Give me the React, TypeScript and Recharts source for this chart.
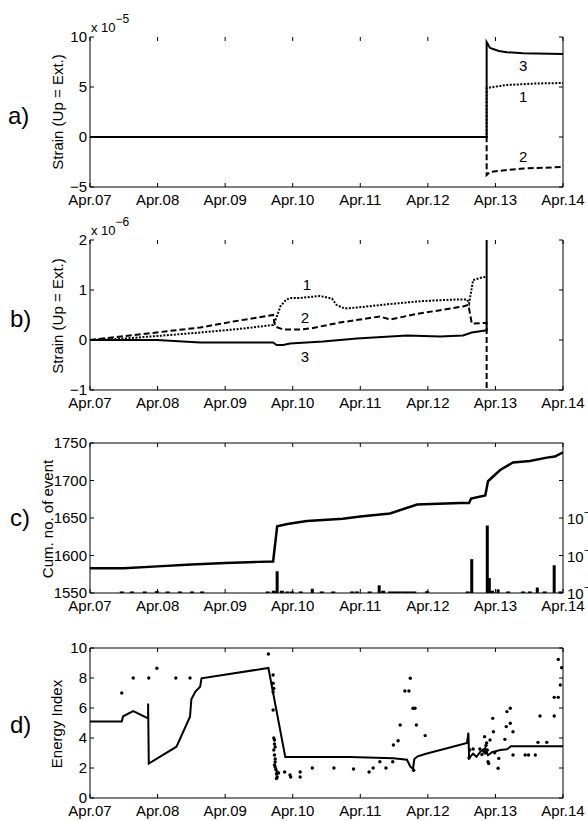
import React from "react";
import { LineChart, ComposedChart, Line, Bar, Scatter, XAxis, YAxis, ReferenceDot } from "recharts";

const FONT = "'Liberation Sans', Arial, Helvetica, sans-serif";
const W = 588;
const H = 185;

const dayTicks = [0, 1, 2, 3, 4, 5, 6, 7];
const dayLabels = ["Apr.07", "Apr.08", "Apr.09", "Apr.10", "Apr.11", "Apr.12", "Apr.13", "Apr.14"];

// a) strain (x 10^-5), components 1..3
const strainA1 = [
  { t: 0, v: 0 }, { t: 5.87, v: 0 }, { t: 5.87, v: 4.9 }, { t: 6.17, v: 5.2 }, { t: 6.6, v: 5.35 }, { t: 7, v: 5.4 },
];
const strainA2 = [
  { t: 0, v: 0 }, { t: 5.87, v: 0 }, { t: 5.87, v: -3.8 }, { t: 5.92, v: -3.5 }, { t: 6.17, v: -3.3 },
  { t: 6.41, v: -3.15 }, { t: 7, v: -3.0 },
];
const strainA3 = [
  { t: 0, v: 0 }, { t: 5.87, v: 0 }, { t: 5.87, v: 9.5 }, { t: 5.92, v: 8.9 }, { t: 6.05, v: 8.6 },
  { t: 6.17, v: 8.47 }, { t: 6.41, v: 8.37 }, { t: 7, v: 8.3 },
];
const labelsA = [
  { t: 6.41, v: 7.1, name: "3" },
  { t: 6.41, v: 4.0, name: "1" },
  { t: 6.41, v: -2.0, name: "2" },
];

// b) strain (x 10^-6)
const strainB1 = [
  { t: 0, v: 0 }, { t: 0.5, v: 0.03 }, { t: 1, v: 0.08 }, { t: 1.63, v: 0.15 }, { t: 2.2, v: 0.22 },
  { t: 2.71, v: 0.3 }, { t: 2.76, v: 0.45 }, { t: 2.82, v: 0.68 }, { t: 2.9, v: 0.8 }, { t: 2.96, v: 0.84 },
  { t: 3.1, v: 0.84 }, { t: 3.4, v: 0.88 }, { t: 3.58, v: 0.83 }, { t: 3.65, v: 0.7 }, { t: 3.77, v: 0.63 },
  { t: 3.95, v: 0.65 }, { t: 4.44, v: 0.72 }, { t: 4.93, v: 0.78 }, { t: 5.43, v: 0.81 }, { t: 5.58, v: 0.81 },
  { t: 5.61, v: 0.73 }, { t: 5.67, v: 1.2 }, { t: 5.8, v: 1.25 }, { t: 5.85, v: 1.26 },
];
const strainB2 = [
  { t: 0, v: 0 }, { t: 1.63, v: 0.25 }, { t: 2.12, v: 0.37 }, { t: 2.71, v: 0.5 }, { t: 2.74, v: 0.27 },
  { t: 2.86, v: 0.21 }, { t: 3.1, v: 0.21 }, { t: 3.26, v: 0.23 }, { t: 3.7, v: 0.35 }, { t: 4.29, v: 0.47 },
  { t: 4.44, v: 0.41 }, { t: 4.83, v: 0.52 }, { t: 5.52, v: 0.67 }, { t: 5.6, v: 0.7 }, { t: 5.65, v: 0.33 },
  { t: 5.82, v: 0.34 }, { t: 5.87, v: 0.34 }, { t: 5.87, v: -1.0 },
];
const strainB3 = [
  { t: 0, v: 0 }, { t: 0.99, v: 0 }, { t: 1.63, v: -0.05 }, { t: 2.71, v: -0.05 }, { t: 2.76, v: -0.1 },
  { t: 2.86, v: -0.1 }, { t: 2.96, v: -0.07 }, { t: 3.45, v: -0.03 }, { t: 3.95, v: 0.03 }, { t: 4.69, v: 0.09 },
  { t: 5.18, v: 0.07 }, { t: 5.52, v: 0.09 }, { t: 5.65, v: 0.15 }, { t: 5.85, v: 0.19 }, { t: 5.87, v: 0.19 },
  { t: 5.87, v: 2.0 },
];
const labelsB = [
  { t: 3.21, v: 1.1, name: "1" },
  { t: 3.18, v: 0.44, name: "2" },
  { t: 3.18, v: -0.34, name: "3" },
];

// c) cumulative number of events + energy bars (log axis)
const cumEvents = [
  { t: 0, n: 1583 }, { t: 0.5, n: 1583 }, { t: 1, n: 1585.5 }, { t: 1.5, n: 1588 }, { t: 2, n: 1590 },
  { t: 2.5, n: 1591.5 }, { t: 2.71, n: 1592 }, { t: 2.77, n: 1639 }, { t: 2.92, n: 1642 }, { t: 3.21, n: 1646 },
  { t: 3.74, n: 1649 }, { t: 4.0, n: 1652 }, { t: 4.44, n: 1656 }, { t: 4.84, n: 1668 }, { t: 5.48, n: 1670 },
  { t: 5.61, n: 1670 }, { t: 5.64, n: 1676 }, { t: 5.85, n: 1680 }, { t: 5.89, n: 1699 }, { t: 6.07, n: 1714 },
  { t: 6.26, n: 1724 }, { t: 6.51, n: 1726 }, { t: 6.76, n: 1730.5 }, { t: 6.88, n: 1732 }, { t: 7, n: 1737.5 },
];
const energyBars = [
  { t: 0.47, e: 1.1e-11 }, { t: 0.62, e: 1.1e-11 }, { t: 0.81, e: 1.1e-11 }, { t: 0.99, e: 1.12e-11 },
  { t: 1.15, e: 1.1e-11 }, { t: 1.33, e: 1.1e-11 }, { t: 1.51, e: 1.1e-11 }, { t: 1.66, e: 1.1e-11 },
  { t: 2.63, e: 1.1e-11 }, { t: 2.72, e: 1.15e-11 }, { t: 2.77, e: 3.8e-11 }, { t: 2.84, e: 1.15e-11 },
  { t: 2.92, e: 1.1e-11 }, { t: 2.99, e: 1.1e-11 }, { t: 3.12, e: 1.1e-11 }, { t: 3.29, e: 1.3e-11 },
  { t: 3.43, e: 1.1e-11 }, { t: 3.6, e: 1.1e-11 }, { t: 3.88, e: 1.1e-11 }, { t: 3.95, e: 1.1e-11 },
  { t: 4.14, e: 1.1e-11 }, { t: 4.28, e: 1.6e-11 }, { t: 4.34, e: 1.15e-11 }, { t: 4.44, e: 1.1e-11 },
  { t: 4.5, e: 1.1e-11 }, { t: 4.56, e: 1.1e-11 }, { t: 4.62, e: 1.1e-11 }, { t: 4.68, e: 1.1e-11 },
  { t: 4.74, e: 1.1e-11 }, { t: 4.8, e: 1.1e-11 }, { t: 4.99, e: 1.12e-11 }, { t: 5.59, e: 1.1e-11 },
  { t: 5.65, e: 8e-11 }, { t: 5.88, e: 6.3e-10 }, { t: 5.91, e: 2.5e-11 }, { t: 5.95, e: 1.15e-11 },
  { t: 6.04, e: 1.25e-11 }, { t: 6.19, e: 1.1e-11 }, { t: 6.41, e: 1.1e-11 }, { t: 6.51, e: 1.1e-11 },
  { t: 6.62, e: 1.4e-11 }, { t: 6.73, e: 1.1e-11 }, { t: 6.87, e: 5.5e-11 }, { t: 6.96, e: 1.1e-11 },
];
const energyTicks = [1e-11, 1e-10, 1e-9, 1e-8];
const energyLabelled = [-11, -10, -9];

// d) energy index
const energyIndexLine = [
  { t: 0, e: 5.1 }, { t: 0.47, e: 5.1 }, { t: 0.49, e: 5.45 }, { t: 0.64, e: 5.8 }, { t: 0.86, e: 5.3 },
  { t: 0.86, e: 6.3 }, { t: 0.87, e: 2.3 }, { t: 1.28, e: 3.42 }, { t: 1.48, e: 5.42 }, { t: 1.5, e: 6.58 },
  { t: 1.56, e: 7.1 }, { t: 1.63, e: 7.42 }, { t: 1.65, e: 7.98 }, { t: 2.64, e: 8.67 }, { t: 2.89, e: 2.73 },
  { t: 3.85, e: 2.73 }, { t: 4.49, e: 2.65 }, { t: 4.69, e: 2.55 }, { t: 4.74, e: 2.1 }, { t: 4.78, e: 1.95 },
  { t: 4.8, e: 2.6 }, { t: 4.85, e: 2.78 }, { t: 4.96, e: 2.93 }, { t: 5.58, e: 3.67 }, { t: 5.6, e: 4.35 },
  { t: 5.61, e: 2.67 }, { t: 5.67, e: 2.95 }, { t: 5.72, e: 2.75 }, { t: 5.78, e: 3.1 }, { t: 5.85, e: 3.33 },
  { t: 5.89, e: 2.85 }, { t: 5.95, e: 3.05 }, { t: 6.07, e: 3.2 }, { t: 6.17, e: 3.25 }, { t: 6.23, e: 3.45 },
  { t: 7, e: 3.45 },
];
const energyIndexPoints = [
  { t: 0.47, e: 7.0 }, { t: 0.64, e: 8.0 }, { t: 0.87, e: 8.0 }, { t: 0.99, e: 8.65 }, { t: 1.27, e: 8.0 },
  { t: 1.48, e: 8.0 }, { t: 2.64, e: 9.6 }, { t: 2.71, e: 8.2 }, { t: 2.71, e: 7.65 }, { t: 2.72, e: 7.3 },
  { t: 2.71, e: 7.07 }, { t: 2.71, e: 5.87 }, { t: 2.72, e: 4.0 }, { t: 2.73, e: 3.87 }, { t: 2.73, e: 3.6 },
  { t: 2.74, e: 3.4 }, { t: 2.72, e: 3.2 }, { t: 2.73, e: 2.87 }, { t: 2.74, e: 2.6 }, { t: 2.74, e: 2.4 },
  { t: 2.73, e: 2.2 }, { t: 2.74, e: 2.07 }, { t: 2.75, e: 1.9 }, { t: 2.77, e: 1.73 }, { t: 2.76, e: 1.6 },
  { t: 2.77, e: 1.4 }, { t: 2.76, e: 1.3 }, { t: 2.79, e: 1.67 }, { t: 2.88, e: 1.73 }, { t: 2.96, e: 1.53 },
  { t: 2.97, e: 1.4 }, { t: 3.11, e: 1.73 }, { t: 3.11, e: 1.4 }, { t: 3.29, e: 2.0 }, { t: 3.61, e: 2.0 },
  { t: 3.9, e: 1.93 }, { t: 4.13, e: 1.73 }, { t: 4.19, e: 2.0 }, { t: 4.29, e: 2.42 }, { t: 4.38, e: 2.0 },
  { t: 4.48, e: 2.42 }, { t: 4.49, e: 3.53 }, { t: 4.56, e: 3.82 }, { t: 4.59, e: 4.87 }, { t: 4.66, e: 7.13 },
  { t: 4.72, e: 7.13 }, { t: 4.74, e: 7.98 }, { t: 4.78, e: 5.98 }, { t: 4.81, e: 5.98 }, { t: 4.83, e: 4.87 },
  { t: 4.96, e: 4.16 }, { t: 4.79, e: 1.85 }, { t: 5.62, e: 3.2 }, { t: 5.61, e: 2.67 }, { t: 5.67, e: 3.27 },
  { t: 5.77, e: 3.27 }, { t: 5.8, e: 2.9 }, { t: 5.83, e: 3.1 }, { t: 5.84, e: 4.09 }, { t: 5.85, e: 3.0 },
  { t: 5.86, e: 3.5 }, { t: 5.87, e: 3.67 }, { t: 5.88, e: 3.2 }, { t: 5.89, e: 2.42 }, { t: 5.9, e: 2.3 },
  { t: 5.92, e: 3.87 }, { t: 5.96, e: 5.31 }, { t: 5.97, e: 4.42 }, { t: 5.99, e: 3.02 }, { t: 6.04, e: 1.98 },
  { t: 6.05, e: 2.64 }, { t: 6.14, e: 3.91 }, { t: 6.16, e: 4.76 }, { t: 6.17, e: 5.76 }, { t: 6.22, e: 5.98 },
  { t: 6.22, e: 4.98 }, { t: 6.26, e: 4.42 }, { t: 6.26, e: 2.87 }, { t: 6.44, e: 2.87 }, { t: 6.49, e: 2.87 },
  { t: 6.59, e: 2.87 }, { t: 6.63, e: 3.71 }, { t: 6.66, e: 5.47 }, { t: 6.76, e: 3.71 }, { t: 6.87, e: 5.47 },
  { t: 6.87, e: 6.71 }, { t: 6.93, e: 6.71 }, { t: 6.96, e: 7.53 }, { t: 6.93, e: 9.24 }, { t: 6.98, e: 8.69 },
];

const black = { stroke: "#000", strokeWidth: 1 };
const tickText = { fill: "#000", fontSize: 15, fontFamily: FONT };
const fmtMinus = (v: number) => String(v).replace("-", "\u2212");
const margin = { top: 10, right: 25, bottom: 0, left: 0 };
// tick marks only, no label
const NoLabel = () => <g />;

function frameAxes(yDomain: [number, number], yTicks: number[], boxTop: boolean) {
  return [
    <XAxis key="xb" xAxisId="b" dataKey="t" type="number" domain={[0, 7]} ticks={dayTicks} interval={0}
      allowDataOverflow tickFormatter={(v: number) => dayLabels[v]} height={25} tickLine={false}
      tickSize={0} tickMargin={7} axisLine={black} tick={tickText} />,
    <XAxis key="xbm" xAxisId="bm" dataKey="t" type="number" domain={[0, 7]} ticks={dayTicks} interval={0}
      allowDataOverflow mirror tick={NoLabel} axisLine={false} tickSize={4} tickLine={black} />,
    <XAxis key="xt" xAxisId="t" dataKey="t" orientation="top" type="number" domain={[0, 7]} ticks={dayTicks}
      interval={0} allowDataOverflow mirror tick={NoLabel} axisLine={boxTop ? black : false}
      tickSize={4} tickLine={black} />,
    <YAxis key="yl" yAxisId="l" type="number" domain={yDomain} ticks={yTicks} interval={0}
      allowDataOverflow width={90} tickFormatter={fmtMinus} tickLine={false} tickSize={0}
      tickMargin={3} axisLine={black} tick={tickText} />,
    <YAxis key="ylm" yAxisId="lm" type="number" domain={yDomain} ticks={yTicks} interval={0}
      allowDataOverflow mirror tick={NoLabel} axisLine={false} tickSize={4} tickLine={black} />,
  ];
}

function rightBox(yDomain: [number, number], yTicks: number[]) {
  return (
    <YAxis yAxisId="r" orientation="right" type="number" domain={yDomain} ticks={yTicks} interval={0}
      allowDataOverflow mirror tick={NoLabel} axisLine={black} tickSize={4} tickLine={black} />
  );
}

function lineLabels(items: { t: number; v: number; name: string }[]) {
  return items.map((p) => (
    <ReferenceDot key={p.name} xAxisId="b" yAxisId="l" x={p.t} y={p.v} r={0} stroke="none"
      label={{ value: p.name, position: "center", fill: "#000", fontSize: 15, fontFamily: FONT }} />
  ));
}

const EnergyBar = (p: any) => {
  if (p.payload == null || p.payload.energy == null || !(p.height > 0)) return null;
  const cx = p.x + p.width / 2;
  const w = p.height < 3 ? 4 : 3;
  return <rect x={cx - w / 2} y={p.y} width={w} height={p.height} fill="#000" />;
};

const LogTick = (p: any) => {
  const exp = Math.round(Math.log10(p.payload.value));
  if (!energyLabelled.includes(exp)) return <g />;
  return (
    <text x={p.x + 2} y={p.y + 6} fill="#000" fontSize={15} fontFamily={FONT} textAnchor="start">
      10<tspan dy={-8} fontSize={11}>{fmtMinus(exp)}</tspan>
    </text>
  );
};

const Dot = (p: any) => <circle cx={p.cx} cy={p.cy} r={1.7} fill="#000" />;

const cData = [
  ...cumEvents.map((p) => ({ t: p.t, cum: p.n })),
  ...energyBars.map((b) => ({ t: b.t, energy: b.e })),
].sort((a, b) => a.t - b.t);

function panelStyle(top: number): React.CSSProperties {
  return { position: "absolute", left: 0, top: top - 10 };
}

export default function App() {
  return (
    <div style={{ position: "absolute", left: 0, top: 0, width: W, height: 821, background: "#fff", fontFamily: FONT }}>
      <div style={panelStyle(37)}>
        <LineChart width={W} height={H} data={strainA3} margin={margin}>
          {frameAxes([-5, 10], [-5, 0, 5, 10], false)}
          {rightBox([-5, 10], [-5, 0, 5, 10])}
          <Line xAxisId="b" yAxisId="l" data={strainA1} dataKey="v" type="linear" stroke="#000" strokeWidth={2}
            strokeDasharray="2 1.5" dot={false} isAnimationActive={false} />
          <Line xAxisId="b" yAxisId="l" data={strainA2} dataKey="v" type="linear" stroke="#000" strokeWidth={2}
            strokeDasharray="6 3" dot={false} isAnimationActive={false} />
          <Line xAxisId="b" yAxisId="l" data={strainA3} dataKey="v" type="linear" stroke="#000" strokeWidth={2}
            dot={false} isAnimationActive={false} />
          {lineLabels(labelsA)}
        </LineChart>
      </div>

      <div style={panelStyle(240)}>
        <LineChart width={W} height={H} data={strainB3} margin={margin}>
          {frameAxes([-1, 2], [-1, 0, 1, 2], false)}
          {rightBox([-1, 2], [-1, 0, 1, 2])}
          <Line xAxisId="b" yAxisId="l" data={strainB1} dataKey="v" type="linear" stroke="#000" strokeWidth={2}
            strokeDasharray="2 1.5" dot={false} isAnimationActive={false} />
          <Line xAxisId="b" yAxisId="l" data={strainB2} dataKey="v" type="linear" stroke="#000" strokeWidth={2}
            strokeDasharray="6 3" dot={false} isAnimationActive={false} />
          <Line xAxisId="b" yAxisId="l" data={strainB3} dataKey="v" type="linear" stroke="#000" strokeWidth={2}
            dot={false} isAnimationActive={false} />
          {lineLabels(labelsB)}
        </LineChart>
      </div>

      <div style={panelStyle(443)}>
        <ComposedChart width={W} height={H} data={cData} margin={{ ...margin, right: 0 }}>
          {frameAxes([1550, 1750], [1550, 1600, 1650, 1700, 1750], true)}
          <YAxis yAxisId="e" orientation="right" type="number" scale="log" domain={[1e-11, 1e-7]}
            ticks={energyTicks} interval={0} allowDataOverflow width={25} tickLine={false} tickSize={0}
            axisLine={black} tick={LogTick} />
          <YAxis yAxisId="r" orientation="right" type="number" scale="log" domain={[1e-11, 1e-7]}
            ticks={energyTicks} interval={0} allowDataOverflow mirror tick={NoLabel} axisLine={false}
            tickSize={4} tickLine={black} />
          <Bar xAxisId="b" yAxisId="e" dataKey="energy" barSize={3} fill="#000" shape={EnergyBar}
            isAnimationActive={false} />
          <Line xAxisId="b" yAxisId="l" dataKey="cum" type="linear" stroke="#000" strokeWidth={2.5}
            dot={false} connectNulls isAnimationActive={false} />
        </ComposedChart>
      </div>

      <div style={panelStyle(648)}>
        <ComposedChart width={W} height={H} data={energyIndexLine} margin={margin}>
          {frameAxes([0, 10], [0, 2, 4, 6, 8, 10], true)}
          {rightBox([0, 10], [0, 2, 4, 6, 8, 10])}
          <Line xAxisId="b" yAxisId="l" dataKey="e" type="linear" stroke="#000" strokeWidth={2}
            dot={false} isAnimationActive={false} />
          <Scatter xAxisId="b" yAxisId="l" data={energyIndexPoints} dataKey="e" fill="#000" shape={Dot}
            isAnimationActive={false} />
        </ComposedChart>
      </div>

      <svg width={W} height={821} style={{ position: "absolute", left: 0, top: 0, pointerEvents: "none" }}
        fontFamily={FONT} fill="#000">
        <text x={8} y={124} fontSize={24}>a)</text>
        <text x={10} y={327} fontSize={24}>b)</text>
        <text x={10} y={526} fontSize={24}>c)</text>
        <text x={10} y={733} fontSize={24}>d)</text>

        <text x={63} y={112} fontSize={15} textAnchor="middle" transform="rotate(-90 63 112)">Strain (Up = Ext.)</text>
        <text x={63} y={316} fontSize={15} textAnchor="middle" transform="rotate(-90 63 316)">Strain (Up = Ext.)</text>
        <text x={53} y={519} fontSize={15} textAnchor="middle" transform="rotate(-90 53 519)">Cum. no. of event</text>
        <text x={62} y={724} fontSize={15} textAnchor="middle" transform="rotate(-90 62 724)">Energy Index</text>

        <text x={91} y={32} fontSize={13}>x 10<tspan dy={-9} fontSize={12}>{"\u22125"}</tspan></text>
        <text x={91} y={235} fontSize={13}>x 10<tspan dy={-9} fontSize={12}>{"\u22126"}</tspan></text>
      </svg>
    </div>
  );
}
